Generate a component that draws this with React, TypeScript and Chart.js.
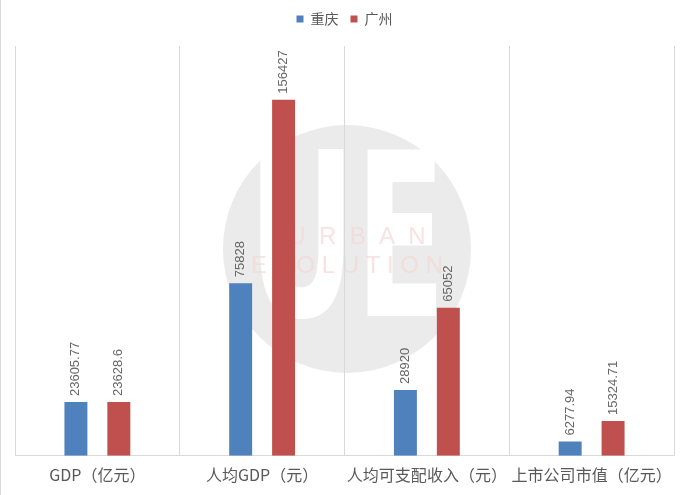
import React, { useEffect, useRef } from "react";
import { Chart, registerables } from "chart.js";

Chart.register(...registerables);

const categories = ["GDP（亿元）", "人均GDP（元）", "人均可支配收入（元）", "上市公司市值（亿元）"];
const chongqing = [23605.77, 75828, 28920, 6277.94];
const guangzhou = [23628.6, 156427, 65052, 15324.71];
const seriesNames = ["重庆", "广州"];
const colors = ["#4F81BD", "#C0504D"];

const watermark = {
  id: "watermark",
  beforeDraw(chart: any) {
    const ctx = chart.ctx;
    const cx = 346, cy = 249, r = 124;
    ctx.save();
    ctx.beginPath();
    ctx.arc(cx, cy, r, 0, Math.PI * 2);
    ctx.fillStyle = "#ebebeb";
    ctx.fill();
    ctx.save();
    ctx.translate(cx, cy + 8);
    ctx.scale(0.55, 0.95);
    ctx.fillStyle = "#ffffff";
    ctx.font = "bold 240px 'DejaVu Sans'";
    ctx.textAlign = "center";
    ctx.textBaseline = "middle";
    ctx.fillText("UE", 0, 0);
    ctx.restore();
    ctx.fillStyle = "rgba(245,215,215,0.7)";
    ctx.font = "24px 'Liberation Sans'";
    ctx.textAlign = "center";
    ctx.textBaseline = "middle";
    ctx.fillText("U  R  B  A  N", cx + 10, cy - 12);
    ctx.fillText("E V O L U T I O N", cx, cy + 17);
    ctx.restore();
  },
};

const dataLabels = {
  id: "dataLabels",
  afterDatasetsDraw(chart: any) {
    const ctx = chart.ctx;
    ctx.save();
    ctx.fillStyle = "#666666";
    ctx.font = "13px 'Liberation Sans'";
    ctx.textAlign = "left";
    ctx.textBaseline = "middle";
    chart.data.datasets.forEach((ds: any, i: number) => {
      const meta = chart.getDatasetMeta(i);
      meta.data.forEach((el: any, j: number) => {
        ctx.save();
        ctx.translate(el.x, el.y - 6);
        ctx.rotate(-Math.PI / 2);
        ctx.fillText(String(ds.data[j]), 0, 0);
        ctx.restore();
      });
    });
    ctx.restore();
  },
};

export default function App() {
  const ref = useRef<HTMLCanvasElement>(null);
  useEffect(() => {
    const chart = new Chart(ref.current!, {
      type: "bar",
      data: {
        labels: categories,
        datasets: [
          { label: seriesNames[0], data: chongqing, backgroundColor: colors[0] },
          { label: seriesNames[1], data: guangzhou, backgroundColor: colors[1] },
        ],
      },
      options: {
        animation: false,
        responsive: false,
        maintainAspectRatio: false,
        layout: { padding: { left: 14, right: 15, top: 0, bottom: 0 } },
        datasets: { bar: { categoryPercentage: 0.521, barPercentage: 0.535 } } as any,
        plugins: {
          legend: {
            position: "top",
            labels: {
              boxWidth: 7,
              boxHeight: 7,
              padding: 12,
              color: "#595959",
              font: { size: 14, family: "'Noto Sans CJK SC'" },
            },
          },
          tooltip: { enabled: false },
        },
        scales: {
          x: {
            grid: { offset: true, color: "#d9d9d9", drawTicks: false },
            border: { color: "#d9d9d9" },
            ticks: {
              color: "#595959",
              padding: 10,
              font: { size: 16, family: "'Noto Sans CJK SC'" },
              maxRotation: 0,
              autoSkip: false,
            },
          },
          y: {
            display: false,
            min: 0,
            max: 180000,
          },
        },
      },
      plugins: [
        watermark,
        dataLabels,
        {
          id: "topGap",
          afterInit(chart: any) {
            const lg = chart.legend;
            if (lg) {
              const origFit = lg.fit.bind(lg);
              lg.fit = function () {
                origFit();
                this.height += 10;
              };
            }
          },
        },
      ],
    });
    return () => chart.destroy();
  }, []);
  return (
    <div style={{ position: "fixed", left: 0, top: 0, width: 689, height: 495, background: "#fff", borderLeft: "1px solid #d9d9d9", boxSizing: "border-box" }}>
      <canvas ref={ref} width={688} height={495} />
    </div>
  );
}
